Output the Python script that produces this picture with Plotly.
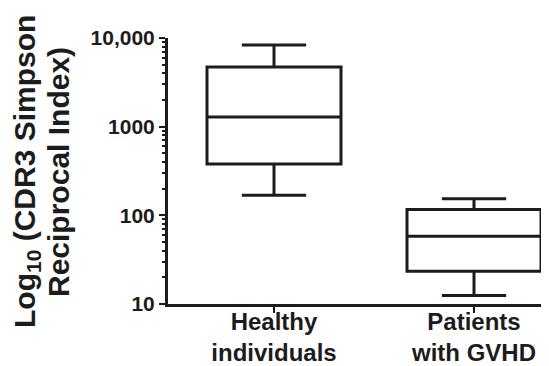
import plotly.graph_objects as go

categories = ["Healthy<br>individuals", "Patients<br>with GVHD"]
lower_whisker = [169, 12.5]
q1_values = [379, 23.4]
median_values = [1285, 58]
q3_values = [4710, 116]
upper_whisker = [8340, 154]

major_ticks = [10, 100, 1000, 10000]
major_labels = ["10", "100", "1000", "10,000"]
minor_ticks = [m * d for d in (10, 100, 1000) for m in range(2, 10)]

title_line1 = "Log<sub>10</sub> (CDR3 Simpson"
title_line2 = "Reciprocal Index)"

FONT = "Liberation Sans, Arial, sans-serif"
INK = "#1c1c1c"

fig = go.Figure()
fig.add_trace(go.Box(
    x=categories,
    q1=q1_values,
    median=median_values,
    q3=q3_values,
    lowerfence=lower_whisker,
    upperfence=upper_whisker,
    boxpoints=False,
    width=0.67,
    whiskerwidth=0.48,
    line=dict(color=INK, width=3),
    fillcolor="white",
    showlegend=False,
    hoverinfo="skip",
))

fig.update_layout(
    width=549, height=366,
    margin=dict(l=160, r=0, t=30, b=70),
    paper_bgcolor="white", plot_bgcolor="white",
    font=dict(family=FONT, color=INK),
)
fig.update_xaxes(
    type="category",
    range=[-0.53, 1.415],
    automargin=False,
    showline=True, linecolor=INK, linewidth=3,
    ticks="outside", ticklen=6, tickwidth=2, tickcolor=INK,
    ticklabelstandoff=-12,
    tickfont=dict(size=24, family=FONT, color=INK, weight="bold"),
    showgrid=False, zeroline=False,
)
fig.update_yaxes(
    type="log",
    range=[1, 4],
    automargin=False,
    tickmode="array", tickvals=major_ticks, ticktext=major_labels,
    showline=True, linecolor=INK, linewidth=3,
    ticks="outside", ticklen=6, tickwidth=2, tickcolor=INK,
    tickfont=dict(size=21, family=FONT, color=INK, weight="bold"),
    minor=dict(tickmode="array", tickvals=minor_ticks, ticks="outside",
               ticklen=3, tickwidth=2, tickcolor=INK, showgrid=False),
    showgrid=False, zeroline=False,
)

for text, xshift in ((title_line1, -142), (title_line2, -110)):
    fig.add_annotation(
        text=text, textangle=-90,
        xref="paper", yref="paper", x=0, y=0.5,
        xanchor="center", yanchor="middle",
        xshift=xshift, yshift=-1,
        showarrow=False,
        font=dict(size=30, family=FONT, color=INK, weight="bold"),
    )

fig.write_html("out.html")
